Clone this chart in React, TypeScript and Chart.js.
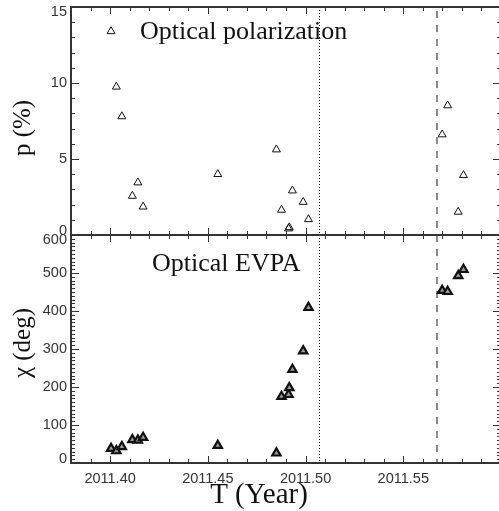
import React, { useEffect, useRef } from 'react';
import { Chart, registerables } from 'chart.js';

Chart.register(...registerables);

// ---- data ----
const TIMES = [
  2011.4005, 2011.4032, 2011.406, 2011.4114, 2011.4142, 2011.4169, 2011.4551,
  2011.4851, 2011.4877, 2011.4913, 2011.4917, 2011.4933, 2011.4988, 2011.5015,
  2011.5699, 2011.5727, 2011.5781, 2011.5808,
];
const P_VALUES = [
  13.4, 9.75, 7.8, 2.57, 3.45, 1.86, 4.0,
  5.62, 1.65, 0.42, 0.5, 2.92, 2.17, 1.03,
  6.61, 8.52, 1.52, 3.93,
];
const CHI_VALUES = [
  38, 32, 43, 61, 60, 67, 46,
  26, 175, 180, 198, 246, 295, 409,
  454, 451, 493, 509,
];
const X_TICKS = [2011.4, 2011.45, 2011.5, 2011.55];
const P_TICKS = [0, 5, 10, 15];
const CHI_TICKS = [0, 100, 200, 300, 400, 500, 600];
const DOTTED_T = 2011.5068;
const DASHED_T = 2011.5672;
const X_MIN = 2011.38;
const X_MAX = 2011.6;

const SERIF = '"Liberation Serif", "Times New Roman", serif';
const SANS = '"Liberation Sans", Arial, sans-serif';
const AXIS_COLOR = '#333';

function drawXTicks(ctx: CanvasRenderingContext2D, xs: any, yEdge: number, dir: number) {
  const k0 = Math.ceil(X_MIN * 100 - 1e-6);
  const k1 = Math.floor(X_MAX * 100 + 1e-6);
  ctx.beginPath();
  for (let k = k0; k <= k1; k++) {
    const px = Math.round(xs.getPixelForValue(k / 100)) + 0.5;
    const len = k % 5 === 0 ? 7 : 4;
    ctx.moveTo(px, yEdge);
    ctx.lineTo(px, yEdge + dir * len);
  }
  ctx.stroke();
}

function drawYTicks(ctx: CanvasRenderingContext2D, ys: any, left: number, right: number, step: number, majorEvery: number) {
  ctx.beginPath();
  const n = Math.round((ys.max - ys.min) / step);
  for (let i = 0; i <= n; i++) {
    const v = ys.min + i * step;
    const py = Math.round(ys.getPixelForValue(v)) + 0.5;
    const len = Math.round(v) % majorEvery === 0 ? 8 : 4;
    ctx.moveTo(left, py);
    ctx.lineTo(left + len, py);
    ctx.moveTo(right, py);
    ctx.lineTo(right - len, py);
  }
  ctx.stroke();
}

function drawYLabels(ctx: CanvasRenderingContext2D, ys: any, values: number[], x: number) {
  ctx.fillStyle = '#333';
  ctx.font = `14.5px ${SANS}`;
  ctx.textAlign = 'right';
  ctx.textBaseline = 'middle';
  values.forEach((v) => {
    let py = ys.getPixelForValue(v);
    if (v === ys.max) py += 5;
    if (v === ys.min) py -= 4;
    ctx.fillText(String(v), x, py);
  });
}

const framePlugin = {
  id: 'framePlugin',
  beforeDatasetsDraw(chart: any) {
    const { ctx, chartArea: a, scales } = chart;
    const xs = scales.x;
    ctx.save();
    const xd = Math.round(xs.getPixelForValue(DOTTED_T)) + 0.5;
    ctx.strokeStyle = '#000';
    ctx.lineWidth = 1;
    ctx.setLineDash([1, 2]);
    ctx.beginPath();
    ctx.moveTo(xd, a.top);
    ctx.lineTo(xd, a.bottom);
    ctx.stroke();
    const xq = Math.round(xs.getPixelForValue(DASHED_T));
    ctx.strokeStyle = '#8a8a8a';
    ctx.lineWidth = 2;
    ctx.setLineDash([7, 7]);
    ctx.beginPath();
    ctx.moveTo(xq, a.top + 4);
    ctx.lineTo(xq, a.bottom);
    ctx.stroke();
    ctx.restore();
  },
  afterDraw(chart: any) {
    const { ctx, chartArea: a, scales } = chart;
    const xs = scales.x;
    const yP = scales.yP;
    const yC = scales.yC;
    const mid = yP.bottom;
    ctx.save();
    ctx.strokeStyle = AXIS_COLOR;
    ctx.lineWidth = 1;
    // ticks
    drawXTicks(ctx, xs, a.top, 1);
    drawXTicks(ctx, xs, mid, -1);
    drawXTicks(ctx, xs, mid, 1);
    drawXTicks(ctx, xs, a.bottom, -1);
    drawYTicks(ctx, yP, a.left, a.right, 1, 5);
    drawYTicks(ctx, yC, a.left, a.right, 10, 100);
    // frame
    ctx.lineWidth = 2;
    ctx.beginPath();
    ctx.rect(a.left, a.top, a.right - a.left, a.bottom - a.top);
    ctx.moveTo(a.left, mid);
    ctx.lineTo(a.right, mid);
    ctx.stroke();
    // y tick labels
    drawYLabels(ctx, yP, P_TICKS, a.left - 4);
    drawYLabels(ctx, yC, CHI_TICKS, a.left - 4);
    // panel labels
    ctx.fillStyle = '#111';
    ctx.font = `26px ${SERIF}`;
    ctx.textAlign = 'left';
    ctx.textBaseline = 'alphabetic';
    ctx.fillText('Optical polarization', 140, 39);
    ctx.fillText('Optical EVPA', 152, 271);
    // axis titles
    ctx.font = `25px ${SERIF}`;
    ctx.save();
    ctx.translate(30, (yP.top + yP.bottom) / 2 + 7);
    ctx.rotate(-Math.PI / 2);
    ctx.textAlign = 'center';
    ctx.fillText('p (%)', 0, 0);
    ctx.restore();
    ctx.save();
    ctx.translate(30, (yC.top + yC.bottom) / 2 - 6);
    ctx.rotate(-Math.PI / 2);
    ctx.textAlign = 'center';
    ctx.fillText('\u03C7 (deg)', 0, 0);
    ctx.restore();
    ctx.font = `29px ${SERIF}`;
    ctx.textAlign = 'center';
    ctx.fillText('T (Year)', 259, 503);
    ctx.restore();
  },
};

export default function App() {
  const canvasRef = useRef<HTMLCanvasElement | null>(null);

  useEffect(() => {
    const canvas = canvasRef.current;
    if (!canvas) return;
    const pData = TIMES.map((t, i) => ({ x: t, y: P_VALUES[i] }));
    const cData = TIMES.map((t, i) => ({ x: t, y: CHI_VALUES[i] }));
    const chart = new Chart(canvas, {
      type: 'scatter',
      data: {
        datasets: [
          {
            label: 'p',
            data: pData,
            yAxisID: 'yP',
            pointStyle: 'triangle',
            pointRadius: 4.6,
            borderColor: '#111',
            backgroundColor: 'rgba(255,255,255,0)',
            borderWidth: 1,
            showLine: false,
          },
          {
            label: 'chi',
            data: cData,
            yAxisID: 'yC',
            pointStyle: 'triangle',
            pointRadius: 4.8,
            borderColor: '#111',
            backgroundColor: '#9a9a9a',
            borderWidth: 2.2,
            showLine: false,
          },
        ],
      },
      options: {
        responsive: false,
        animation: false,
        devicePixelRatio: 1,
        layout: { autoPadding: false, padding: { left: 0, top: 7, right: 2, bottom: 0 } },
        plugins: { legend: { display: false }, tooltip: { enabled: false } },
        scales: {
          x: {
            type: 'linear',
            position: 'bottom',
            min: X_MIN,
            max: X_MAX,
            grid: { display: false, drawTicks: false },
            border: { display: false },
            afterBuildTicks: (s: any) => {
              s.ticks = X_TICKS.map((v) => ({ value: v }));
            },
            afterFit: (s: any) => {
              s.height = 48;
              s.paddingLeft = 0;
              s.paddingRight = 0;
            },
            ticks: {
              padding: 7,
              color: '#333',
              font: { family: SANS, size: 14.5 },
              maxRotation: 0,
              autoSkip: false,
              callback: (v: any) => Number(v).toFixed(2),
            },
          },
          yC: {
            type: 'linear',
            position: 'left',
            stack: 'panels',
            stackWeight: 1,
            min: 0,
            max: 600,
            grid: { display: false, drawTicks: false },
            border: { display: false },
            ticks: { display: false },
            afterFit: (s: any) => {
              s.width = 71;
              s.paddingTop = 0;
              s.paddingBottom = 0;
            },
          },
          yP: {
            type: 'linear',
            position: 'left',
            stack: 'panels',
            stackWeight: 1,
            min: 0,
            max: 15,
            grid: { display: false, drawTicks: false },
            border: { display: false },
            ticks: { display: false },
            afterFit: (s: any) => {
              s.width = 71;
              s.paddingTop = 0;
              s.paddingBottom = 0;
            },
          },
        },
      },
      plugins: [framePlugin],
    } as any);
    return () => chart.destroy();
  }, []);

  return (
    <div
      style={{
        position: 'fixed',
        left: 0,
        top: 0,
        width: 499,
        height: 511,
        overflow: 'hidden',
        background: '#fff',
      }}
    >
      <canvas
        ref={canvasRef}
        width={503}
        height={511}
        style={{ display: 'block', width: 503, height: 511 }}
      />
    </div>
  );
}
